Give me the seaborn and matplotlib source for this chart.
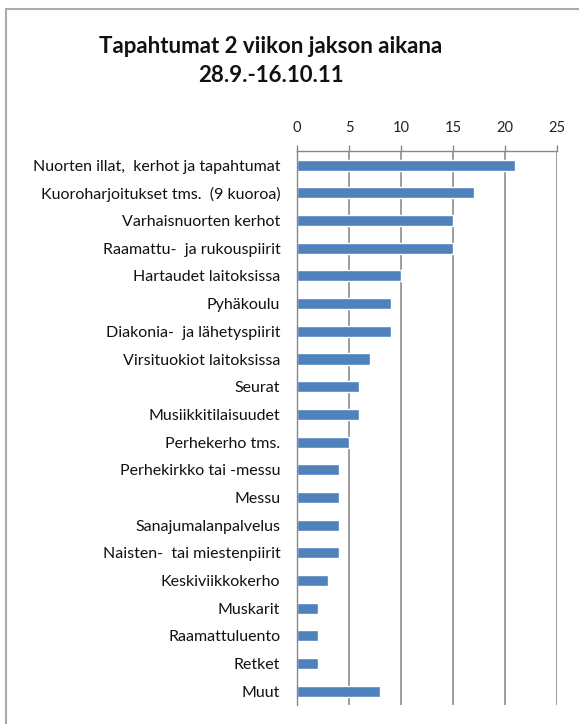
import matplotlib
matplotlib.use("Agg")
import matplotlib.pyplot as plt
from matplotlib.lines import Line2D
import seaborn as sns
import pandas as pd
import numpy as np

categories = [
    "Nuorten illat,  kerhot ja tapahtumat",
    "Kuoroharjoitukset tms.  (9 kuoroa)",
    "Varhaisnuorten kerhot",
    "Raamattu-  ja rukouspiirit",
    "Hartaudet laitoksissa",
    "Pyhäkoulu",
    "Diakonia-  ja lähetyspiirit",
    "Virsituokiot laitoksissa",
    "Seurat",
    "Musiikkitilaisuudet",
    "Perhekerho tms.",
    "Perhekirkko tai -messu",
    "Messu",
    "Sanajumalanpalvelus",
    "Naisten-  tai miestenpiirit",
    "Keskiviikkokerho",
    "Muskarit",
    "Raamattuluento",
    "Retket",
    "Muut",
]
counts = [21, 17, 15, 15, 10, 9, 9, 7, 6, 6, 5, 4, 4, 4, 4, 3, 2, 2, 2, 8]
x_ticks = [0, 5, 10, 15, 20, 25]
title = "Tapahtumat 2 viikon jakson aikana\n28.9.-16.10.11"

sns.set_theme(style="white")
plt.rcParams["font.family"] = ["Lato", "DejaVu Sans"]

df = pd.DataFrame({"Tapahtuma": categories, "Määrä": counts})

fig = plt.figure(figsize=(5.79, 7.24), dpi=100)
ax = fig.add_axes([0.513, 0.026, 0.449, 0.765])

sns.barplot(data=df, x="Määrä", y="Tapahtuma", orient="h", color="#4F81BD",
            saturation=1, width=0.4, ax=ax)

ax.set_xlim(0, 25)
ax.set_ylim(len(categories) - 0.5, -0.5)
ax.set_xticks(x_ticks)
ax.xaxis.tick_top()
ax.xaxis.set_label_position("top")
ax.set_xlabel("")
ax.set_ylabel("")
ax.tick_params(axis="x", labelsize=10.5, labelcolor="#222222", length=4,
               width=1, direction="out", pad=8, color="#888888")
ax.tick_params(axis="y", labelsize=11.5, labelcolor="#111111", length=0, pad=12)

# category boundary ticks on the left spine
ax.set_yticks(np.arange(-0.5, len(categories), 1.0), minor=True)
ax.tick_params(axis="y", which="minor", length=4, width=1, color="#888888",
               direction="out")

ax.grid(axis="x", color="#8c8c8c", linewidth=1.2)
ax.set_axisbelow(True)
for side in ("right", "bottom"):
    ax.spines[side].set_visible(False)
for side in ("left", "top"):
    ax.spines[side].set_color("#888888")
    ax.spines[side].set_linewidth(1)

fig.text(0.468, 0.916, title, ha="center", va="center", fontsize=16,
         fontweight="bold", linespacing=1.45, color="#111111")

# outer chart frame
fig.add_artist(Line2D([0.0095, 0.0095], [0, 0.988], transform=fig.transFigure,
                      color="#aaaaaa", linewidth=1.5))
fig.add_artist(Line2D([0.0095, 1.0], [0.988, 0.988], transform=fig.transFigure,
                      color="#aaaaaa", linewidth=1.5))

fig.savefig("out.png", dpi=100)
